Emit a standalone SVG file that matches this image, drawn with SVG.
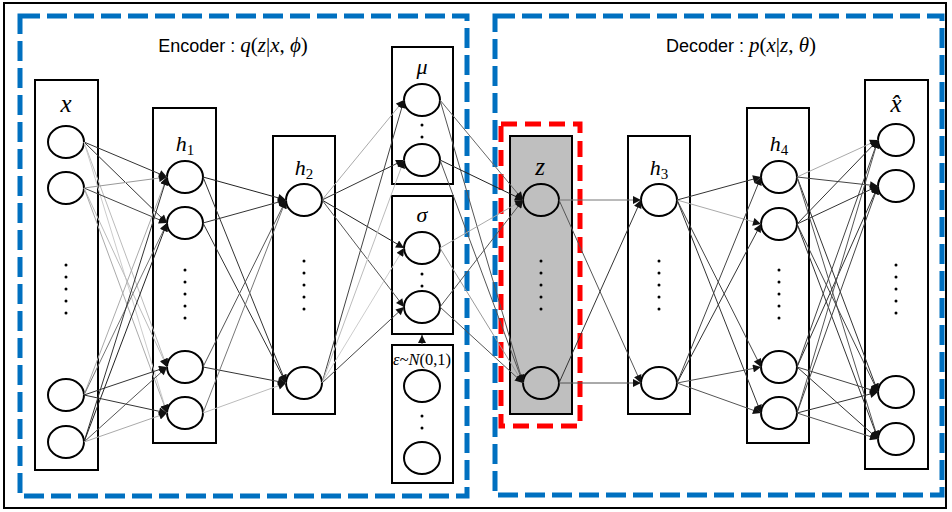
<svg xmlns="http://www.w3.org/2000/svg" width="952" height="512" viewBox="0 0 952 512">
<style>
.box{fill:none;stroke:#000;stroke-width:2}
.n{fill:none;stroke:#000;stroke-width:2}
.d{fill:#000}
.blue{fill:none;stroke:#0070c0;stroke-width:5;stroke-dasharray:20 7}
.red{fill:none;stroke:#ff0000;stroke-width:5;stroke-dasharray:16 8}
.m{font-family:"Liberation Serif","DejaVu Serif",serif;font-style:italic;font-size:22px;text-anchor:middle;fill:#000}
.big{font-size:25px}
.sub{font-style:normal;font-size:15px}
.t{font-family:"Liberation Sans","Open Sans",sans-serif;font-size:18px;fill:#000;text-anchor:middle}
.ti{font-family:"Liberation Serif",serif;font-style:italic;font-size:21px}
.tu{font-family:"Liberation Serif",serif;font-size:21px}
#edges line{stroke-width:1;marker-end:url(#ah)}
</style>
<defs>
<marker id="ah" viewBox="0 0 10 10" refX="10" refY="5" markerWidth="9" markerHeight="8" markerUnits="userSpaceOnUse" orient="auto"><path d="M0,0 L10,5 L0,10 z" fill="#111"/></marker>
</defs>
<rect x="0" y="0" width="952" height="512" fill="#fff"/>
<rect x="4" y="3" width="942" height="505" fill="none" stroke="#000" stroke-width="2"/>

<g id="encoder-frame">
<rect class="blue" x="20" y="16" width="447" height="480"/>
<text class="t" x="233" y="52">Encoder : <tspan class="ti">q</tspan><tspan class="tu">(</tspan><tspan class="ti">z</tspan><tspan class="tu">|</tspan><tspan class="ti">x</tspan><tspan class="tu">, </tspan><tspan class="ti">ϕ</tspan><tspan class="tu">)</tspan></text>
</g>
<g id="decoder-frame">
<rect class="blue" x="495" y="16" width="447" height="479"/>
<text class="t" x="741" y="52">Decoder : <tspan class="ti">p</tspan><tspan class="tu">(</tspan><tspan class="ti">x</tspan><tspan class="tu">|</tspan><tspan class="ti">z</tspan><tspan class="tu">, </tspan><tspan class="ti">θ</tspan><tspan class="tu">)</tspan></text>
</g>

<g id="layer-x">
<rect class="box" x="35" y="80" width="63" height="390"/>
<text class="m big" x="66" y="112">x</text>
<ellipse class="n" cx="66" cy="142" rx="18" ry="16"/>
<ellipse class="n" cx="66" cy="188" rx="18" ry="16"/>
<ellipse class="n" cx="66" cy="395" rx="18" ry="16"/>
<ellipse class="n" cx="66" cy="442" rx="18" ry="16"/>
<circle class="d" cx="66" cy="265" r="1.5"/><circle class="d" cx="66" cy="277" r="1.5"/><circle class="d" cx="66" cy="289" r="1.5"/><circle class="d" cx="66" cy="301" r="1.5"/><circle class="d" cx="66" cy="313" r="1.5"/>
</g>

<g id="layer-h1">
<rect class="box" x="153" y="108" width="63" height="335"/>
<text class="m" x="185" y="151">h<tspan class="sub" dy="4">1</tspan></text>
<ellipse class="n" cx="185" cy="177" rx="18" ry="16"/>
<ellipse class="n" cx="185" cy="223" rx="18" ry="16"/>
<ellipse class="n" cx="185" cy="367" rx="18" ry="16"/>
<ellipse class="n" cx="185" cy="413" rx="18" ry="16"/>
<circle class="d" cx="185" cy="270" r="1.5"/><circle class="d" cx="185" cy="282" r="1.5"/><circle class="d" cx="185" cy="294" r="1.5"/><circle class="d" cx="185" cy="306" r="1.5"/><circle class="d" cx="185" cy="318" r="1.5"/>
</g>

<g id="layer-h2">
<rect class="box" x="273" y="136" width="62" height="278"/>
<text class="m" x="304" y="175">h<tspan class="sub" dy="4">2</tspan></text>
<ellipse class="n" cx="304" cy="200" rx="18" ry="16"/>
<ellipse class="n" cx="304" cy="383" rx="18" ry="16"/>
<circle class="d" cx="304" cy="261" r="1.5"/><circle class="d" cx="304" cy="273" r="1.5"/><circle class="d" cx="304" cy="285" r="1.5"/><circle class="d" cx="304" cy="297" r="1.5"/><circle class="d" cx="304" cy="309" r="1.5"/>
</g>

<g id="layer-mu">
<rect class="box" x="392" y="47" width="61" height="137"/>
<text class="m" x="422" y="74">μ</text>
<ellipse class="n" cx="422" cy="100" rx="18" ry="16"/>
<ellipse class="n" cx="422" cy="160" rx="18" ry="16"/>
<circle class="d" cx="422" cy="125" r="1.5"/><circle class="d" cx="422" cy="137" r="1.5"/>
</g>

<g id="layer-sigma">
<rect class="box" x="392" y="196" width="61" height="138"/>
<text class="m" x="422" y="222">σ</text>
<ellipse class="n" cx="422" cy="248" rx="18" ry="16"/>
<ellipse class="n" cx="422" cy="307" rx="18" ry="16"/>
<circle class="d" cx="422" cy="274" r="1.5"/><circle class="d" cx="422" cy="286" r="1.5"/>
</g>

<g id="layer-eps">
<rect class="box" x="392" y="345" width="61" height="138"/>
<text class="m" x="422" y="365" style="font-size:16px" textLength="58" lengthAdjust="spacingAndGlyphs">ε~<tspan>N</tspan><tspan style="font-style:normal">(0,1)</tspan></text>
<ellipse class="n" cx="422" cy="386" rx="18" ry="16"/>
<ellipse class="n" cx="422" cy="458" rx="18" ry="16"/>
<circle class="d" cx="422" cy="416" r="1.5"/><circle class="d" cx="422" cy="428" r="1.5"/>
</g>

<g id="layer-z">
<rect x="510" y="136" width="62" height="278" fill="#bfbfbf" stroke="#000" stroke-width="2"/>
<rect class="red" x="501" y="124" width="79" height="302"/>
<text class="m big" x="540" y="175">z</text>
<ellipse class="n" cx="541" cy="200" rx="18" ry="16"/>
<ellipse class="n" cx="541" cy="383" rx="18" ry="16"/>
<circle class="d" cx="541" cy="261" r="1.5"/><circle class="d" cx="541" cy="273" r="1.5"/><circle class="d" cx="541" cy="285" r="1.5"/><circle class="d" cx="541" cy="297" r="1.5"/><circle class="d" cx="541" cy="309" r="1.5"/>
</g>

<g id="layer-h3">
<rect class="box" x="628" y="136" width="62" height="278"/>
<text class="m" x="659" y="175">h<tspan class="sub" dy="4">3</tspan></text>
<ellipse class="n" cx="659" cy="200" rx="18" ry="16"/>
<ellipse class="n" cx="659" cy="383" rx="18" ry="16"/>
<circle class="d" cx="659" cy="261" r="1.5"/><circle class="d" cx="659" cy="273" r="1.5"/><circle class="d" cx="659" cy="285" r="1.5"/><circle class="d" cx="659" cy="297" r="1.5"/><circle class="d" cx="659" cy="309" r="1.5"/>
</g>

<g id="layer-h4">
<rect class="box" x="747" y="108" width="62" height="335"/>
<text class="m" x="779" y="151">h<tspan class="sub" dy="4">4</tspan></text>
<ellipse class="n" cx="779" cy="177" rx="18" ry="16"/>
<ellipse class="n" cx="779" cy="224" rx="18" ry="16"/>
<ellipse class="n" cx="779" cy="367" rx="18" ry="16"/>
<ellipse class="n" cx="779" cy="413" rx="18" ry="16"/>
<circle class="d" cx="779" cy="270" r="1.5"/><circle class="d" cx="779" cy="282" r="1.5"/><circle class="d" cx="779" cy="294" r="1.5"/><circle class="d" cx="779" cy="306" r="1.5"/><circle class="d" cx="779" cy="318" r="1.5"/>
</g>

<g id="layer-xhat">
<rect class="box" x="865" y="80" width="63" height="389"/>
<text class="m big" x="896" y="112">x̂</text>
<ellipse class="n" cx="896" cy="140" rx="18" ry="16"/>
<ellipse class="n" cx="896" cy="186" rx="18" ry="16"/>
<ellipse class="n" cx="896" cy="392" rx="18" ry="16"/>
<ellipse class="n" cx="896" cy="439" rx="18" ry="16"/>
<circle class="d" cx="896" cy="265" r="1.5"/><circle class="d" cx="896" cy="277" r="1.5"/><circle class="d" cx="896" cy="289" r="1.5"/><circle class="d" cx="896" cy="301" r="1.5"/><circle class="d" cx="896" cy="313" r="1.5"/>
</g>

<g id="edges">
<line x1="84" y1="142" x2="167" y2="177" stroke="#333"/>
<line x1="84" y1="142" x2="167" y2="223" stroke="#333"/>
<line x1="84" y1="142" x2="167" y2="367" stroke="#bbb"/>
<line x1="84" y1="142" x2="167" y2="413" stroke="#ccc"/>
<line x1="84" y1="188" x2="167" y2="177" stroke="#999"/>
<line x1="84" y1="188" x2="167" y2="223" stroke="#444"/>
<line x1="84" y1="188" x2="167" y2="367" stroke="#bbb"/>
<line x1="84" y1="188" x2="167" y2="413" stroke="#aaa"/>
<line x1="84" y1="395" x2="167" y2="177" stroke="#aaa"/>
<line x1="84" y1="395" x2="167" y2="223" stroke="#777"/>
<line x1="84" y1="395" x2="167" y2="367" stroke="#333"/>
<line x1="84" y1="395" x2="167" y2="413" stroke="#333"/>
<line x1="84" y1="442" x2="167" y2="177" stroke="#333"/>
<line x1="84" y1="442" x2="167" y2="223" stroke="#222"/>
<line x1="84" y1="442" x2="167" y2="367" stroke="#555"/>
<line x1="84" y1="442" x2="167" y2="413" stroke="#aaa"/>

<line x1="203" y1="177" x2="286" y2="200" stroke="#222"/>
<line x1="203" y1="177" x2="286" y2="383" stroke="#333"/>
<line x1="203" y1="223" x2="286" y2="200" stroke="#333"/>
<line x1="203" y1="223" x2="286" y2="383" stroke="#333"/>
<line x1="203" y1="367" x2="286" y2="200" stroke="#555"/>
<line x1="203" y1="367" x2="286" y2="383" stroke="#333"/>
<line x1="203" y1="413" x2="286" y2="200" stroke="#777"/>
<line x1="203" y1="413" x2="286" y2="383" stroke="#bbb"/>

<line x1="322" y1="200" x2="404" y2="100" stroke="#aaa"/>
<line x1="322" y1="200" x2="404" y2="160" stroke="#333"/>
<line x1="322" y1="200" x2="404" y2="248" stroke="#222"/>
<line x1="322" y1="200" x2="404" y2="307" stroke="#555"/>
<line x1="322" y1="383" x2="404" y2="100" stroke="#444"/>
<line x1="322" y1="383" x2="404" y2="160" stroke="#bbb"/>
<line x1="322" y1="383" x2="404" y2="248" stroke="#ccc"/>
<line x1="322" y1="383" x2="404" y2="307" stroke="#444"/>

<line x1="440" y1="100" x2="523" y2="200" stroke="#666"/>
<line x1="440" y1="100" x2="523" y2="383" stroke="#555"/>
<line x1="440" y1="160" x2="523" y2="200" stroke="#222"/>
<line x1="440" y1="160" x2="523" y2="383" stroke="#555"/>
<line x1="440" y1="248" x2="523" y2="200" stroke="#aaa"/>
<line x1="440" y1="248" x2="523" y2="383" stroke="#999"/>
<line x1="440" y1="307" x2="523" y2="200" stroke="#555"/>
<line x1="440" y1="307" x2="523" y2="383" stroke="#555"/>

<line x1="559" y1="200" x2="641" y2="200" stroke="#777"/>
<line x1="559" y1="200" x2="641" y2="383" stroke="#555"/>
<line x1="559" y1="383" x2="641" y2="200" stroke="#333"/>
<line x1="559" y1="383" x2="641" y2="383" stroke="#555"/>

<line x1="677" y1="200" x2="761" y2="177" stroke="#333"/>
<line x1="677" y1="200" x2="761" y2="224" stroke="#aaa"/>
<line x1="677" y1="200" x2="761" y2="367" stroke="#444"/>
<line x1="677" y1="200" x2="761" y2="413" stroke="#333"/>
<line x1="677" y1="383" x2="761" y2="177" stroke="#444"/>
<line x1="677" y1="383" x2="761" y2="224" stroke="#333"/>
<line x1="677" y1="383" x2="761" y2="367" stroke="#555"/>
<line x1="677" y1="383" x2="761" y2="413" stroke="#555"/>

<line x1="797" y1="177" x2="878" y2="140" stroke="#aaa"/>
<line x1="797" y1="177" x2="878" y2="186" stroke="#444"/>
<line x1="797" y1="177" x2="878" y2="392" stroke="#333"/>
<line x1="797" y1="177" x2="878" y2="439" stroke="#555"/>
<line x1="797" y1="224" x2="878" y2="140" stroke="#333"/>
<line x1="797" y1="224" x2="878" y2="186" stroke="#333"/>
<line x1="797" y1="224" x2="878" y2="392" stroke="#444"/>
<line x1="797" y1="224" x2="878" y2="439" stroke="#333"/>
<line x1="797" y1="367" x2="878" y2="140" stroke="#444"/>
<line x1="797" y1="367" x2="878" y2="186" stroke="#333"/>
<line x1="797" y1="367" x2="878" y2="392" stroke="#444"/>
<line x1="797" y1="367" x2="878" y2="439" stroke="#333"/>
<line x1="797" y1="413" x2="878" y2="140" stroke="#555"/>
<line x1="797" y1="413" x2="878" y2="186" stroke="#444"/>
<line x1="797" y1="413" x2="878" y2="392" stroke="#333"/>
<line x1="797" y1="413" x2="878" y2="439" stroke="#555"/>

<line x1="422" y1="345" x2="422" y2="335" stroke="#333"/>
</g>
</svg>
